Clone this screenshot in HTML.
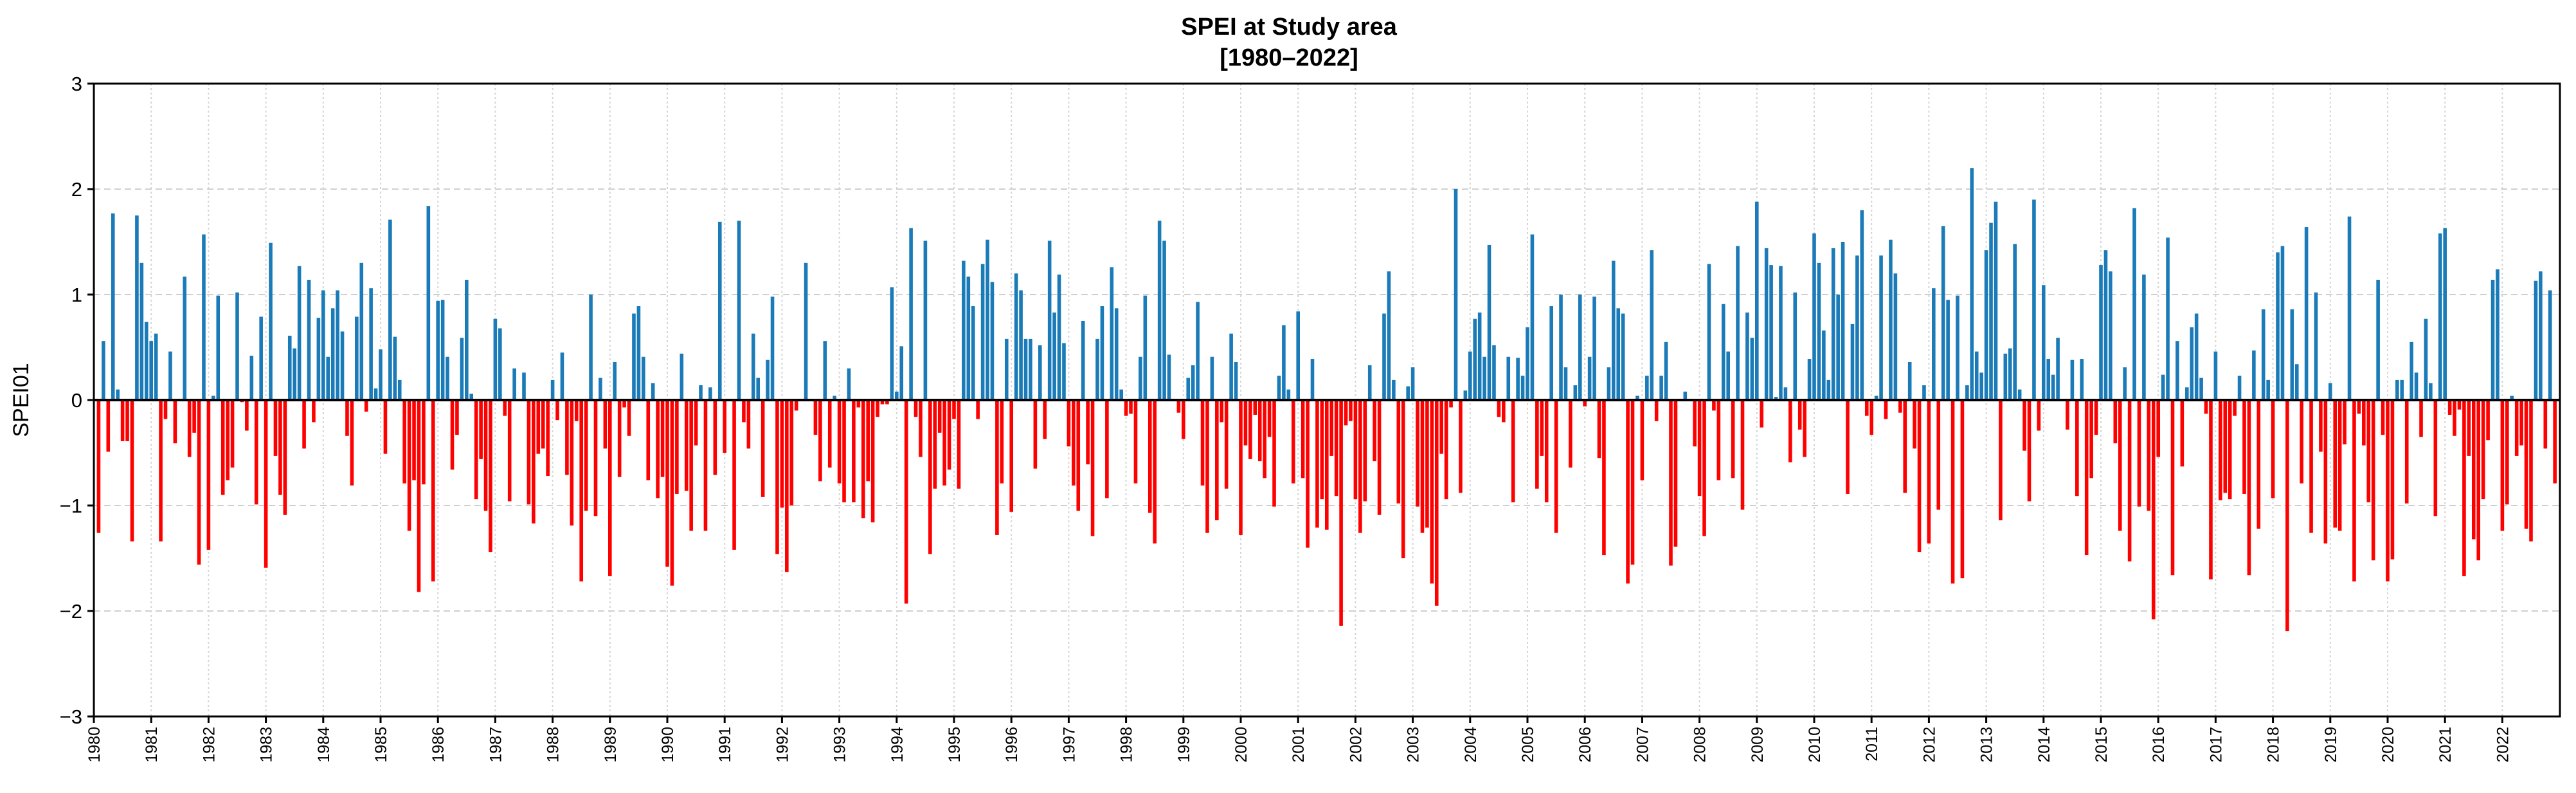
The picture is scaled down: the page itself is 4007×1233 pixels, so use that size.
<!DOCTYPE html>
<html><head><meta charset="utf-8"><title>SPEI at Study area</title>
<style>
html,body{margin:0;padding:0;background:#fff;}
svg{display:block;font-family:"Liberation Sans","DejaVu Sans",sans-serif;}
</style></head>
<body>
<svg id="chart" width="4007" height="1233" viewBox="0 0 4007 1233" xmlns="http://www.w3.org/2000/svg">
  <rect x="0" y="0" width="4007" height="1233" fill="#fff"/>
  <text x="2005" y="54" text-anchor="middle" font-size="38" font-weight="bold">SPEI at Study area</text>
  <text x="2005" y="102" text-anchor="middle" font-size="38" font-weight="bold">[1980–2022]</text>
  <g id="grid"></g>
  <g id="bars"></g>
  <g id="axes"></g>
  <text x="0" y="0" transform="translate(44,622) rotate(-90)" text-anchor="middle" font-size="34">SPEI01</text>
</svg>
<script>
const startYear = 1980;
const yearLabels = [];
for (let y = 1980; y <= 2022; y++) yearLabels.push(String(y));
const yTicks = [-3, -2, -1, 0, 1, 2, 3];
const spei = [
0,-1.26,0.56,-0.49,1.77,0.1,-0.39,-0.39,-1.34,1.75,1.3,0.74,
0.56,0.63,-1.34,-0.18,0.46,-0.41,0,1.17,-0.54,-0.31,-1.56,1.57,
-1.42,0.04,0.99,-0.9,-0.76,-0.64,1.02,-0.02,-0.29,0.42,-0.99,0.79,
-1.59,1.49,-0.53,-0.9,-1.09,0.61,0.49,1.27,-0.46,1.14,-0.21,0.78,
1.04,0.41,0.87,1.04,0.65,-0.34,-0.81,0.79,1.3,-0.11,1.06,0.11,
0.48,-0.51,1.71,0.6,0.19,-0.79,-1.24,-0.76,-1.82,-0.8,1.84,-1.72,
0.94,0.95,0.41,-0.66,-0.33,0.59,1.14,0.06,-0.94,-0.56,-1.05,-1.44,
0.77,0.68,-0.15,-0.96,0.3,0,0.26,-0.99,-1.17,-0.51,-0.46,-0.72,
0.19,-0.19,0.45,-0.71,-1.19,-0.2,-1.72,-1.05,1.0,-1.1,0.21,-0.46,
-1.67,0.36,-0.73,-0.07,-0.34,0.82,0.89,0.41,-0.76,0.16,-0.93,-0.73,
-1.58,-1.76,-0.89,0.44,-0.86,-1.24,-0.43,0.14,-1.24,0.12,-0.71,1.69,
-0.5,0,-1.42,1.7,-0.21,-0.46,0.63,0.21,-0.92,0.38,0.98,-1.46,
-1.02,-1.63,-1.0,-0.1,0,1.3,0,-0.33,-0.77,0.56,-0.64,0.04,
-0.79,-0.97,0.3,-0.97,-0.07,-1.12,-0.77,-1.16,-0.16,-0.04,-0.04,1.07,
0.08,0.51,-1.93,1.63,-0.16,-0.54,1.51,-1.46,-0.84,-0.31,-0.81,-0.66,
-0.18,-0.84,1.32,1.17,0.89,-0.18,1.29,1.52,1.12,-1.28,-0.79,0.58,
-1.06,1.2,1.04,0.58,0.58,-0.65,0.52,-0.37,1.51,0.83,1.19,0.54,
-0.44,-0.81,-1.05,0.75,-0.61,-1.29,0.58,0.89,-0.93,1.26,0.87,0.1,
-0.15,-0.13,-0.79,0.41,0.99,-1.07,-1.36,1.7,1.51,0.43,0,-0.12,
-0.37,0.21,0.33,0.93,-0.81,-1.26,0.41,-1.14,-0.21,-0.84,0.63,0.36,
-1.28,-0.43,-0.56,-0.14,-0.58,-0.74,-0.35,-1.01,0.23,0.71,0.1,-0.79,
0.84,-0.74,-1.4,0.39,-1.21,-0.94,-1.23,-0.53,-0.91,-2.14,-0.24,-0.2,
-0.94,-1.26,-0.96,0.33,-0.58,-1.09,0.82,1.22,0.19,-0.98,-1.5,0.13,
0.31,-1.01,-1.26,-1.21,-1.74,-1.95,-0.51,-0.94,-0.07,2.0,-0.88,0.09,
0.46,0.77,0.83,0.41,1.47,0.52,-0.16,-0.21,0.41,-0.97,0.4,0.23,
0.69,1.57,-0.84,-0.53,-0.97,0.89,-1.26,1.0,0.31,-0.64,0.14,1.0,
-0.06,0.41,0.98,-0.55,-1.47,0.31,1.32,0.87,0.82,-1.74,-1.56,0.04,
-0.76,0.23,1.42,-0.2,0.23,0.55,-1.57,-1.39,0,0.08,0,-0.44,
-0.91,-1.29,1.29,-0.1,-0.76,0.91,0.46,-0.74,1.46,-1.04,0.83,0.59,
1.88,-0.26,1.44,1.28,0.03,1.27,0.12,-0.59,1.02,-0.28,-0.54,0.39,
1.58,1.3,0.66,0.19,1.44,1.0,1.5,-0.89,0.72,1.37,1.8,-0.15,
-0.33,0.04,1.37,-0.18,1.52,1.2,-0.12,-0.88,0.36,-0.46,-1.44,0.14,
-1.36,1.06,-1.04,1.65,0.95,-1.74,0.99,-1.69,0.14,2.2,0.46,0.26,
1.42,1.68,1.88,-1.14,0.44,0.49,1.48,0.1,-0.48,-0.96,1.9,-0.29,
1.09,0.39,0.24,0.59,0,-0.28,0.38,-0.91,0.39,-1.47,-0.74,-0.33,
1.28,1.42,1.22,-0.41,-1.24,0.31,-1.53,1.82,-1.01,1.19,-1.05,-2.08,
-0.54,0.24,1.54,-1.66,0.56,-0.63,0.12,0.69,0.82,0.21,-0.13,-1.7,
0.46,-0.95,-0.88,-0.94,-0.15,0.23,-0.89,-1.66,0.47,-1.22,0.86,0.19,
-0.93,1.4,1.46,-2.19,0.86,0.34,-0.79,1.64,-1.26,1.02,-0.49,-1.36,
0.16,-1.21,-1.24,-0.42,1.74,-1.72,-0.13,-0.43,-0.97,-1.52,1.14,-0.33,
-1.72,-1.51,0.19,0.19,-0.98,0.55,0.26,-0.35,0.77,0.16,-1.1,1.58,
1.63,-0.14,-0.34,-0.09,-1.67,-0.53,-1.32,-1.52,-0.94,-0.38,1.14,1.24,
-1.24,-0.99,0.04,-0.53,-0.43,-1.22,-1.34,1.13,1.22,-0.46,1.04,-0.79
];

const NS = "http://www.w3.org/2000/svg";
const plotL = 146, plotR = 3982, plotT = 130, plotB = 1114;
const yMin = -3, yMax = 3;
const monthW = 89.2 / 12;
function xScale(monthIndex) { return 146 + monthIndex * monthW; }
function yScale(v) { return plotB - (v - yMin) / (yMax - yMin) * (plotB - plotT); }
function mk(tag, attrs, parent) {
  const el = document.createElementNS(NS, tag);
  for (const k in attrs) el.setAttribute(k, attrs[k]);
  parent.appendChild(el);
  return el;
}
const grid = document.getElementById('grid');
const bars = document.getElementById('bars');
const axes = document.getElementById('axes');

// horizontal grid
yTicks.forEach(t => {
  const y = yScale(t);
  const ln = mk('line', {x1: plotL, x2: plotR, y1: y, y2: y, stroke: '#cfcfcf', 'stroke-width': 2, 'stroke-dasharray': '10,6'}, grid);
  
  
});
// vertical grid
yearLabels.forEach((lab, i) => {
  const x = xScale(i * 12);
  const ln = mk('line', {x1: x, x2: x, y1: plotT, y2: plotB, stroke: '#d4d4d4', 'stroke-width': 2, 'stroke-dasharray': '3,4'}, grid);
  
  
});

// bars
const barW = 5.6;
const y0 = yScale(0);
spei.forEach((v, i) => {
  if (v === 0) return;
  const cx = xScale(i);
  const yv = yScale(v);
  const r = mk('rect', {x: cx - barW / 2, y: Math.min(y0, yv), width: barW, height: Math.abs(yv - y0), fill: v > 0 ? '#1a7bb8' : '#ff0000'}, bars);
  
  
});

// zero line
const zl = mk('line', {x1: plotL, x2: plotR, y1: y0, y2: y0, stroke: '#000', 'stroke-width': 4}, axes);



// frame
const fr = mk('rect', {x: plotL, y: plotT, width: plotR - plotL, height: plotB - plotT, fill: 'none', stroke: '#000', 'stroke-width': 3}, axes);



// y ticks + labels
yTicks.forEach(t => {
  const y = yScale(t);
  const tk = mk('line', {x1: plotL - 10, x2: plotL, y1: y, y2: y, stroke: '#000', 'stroke-width': 3}, axes);
  
  
  const tx = mk('text', {x: plotL - 18, y: y + 11, 'text-anchor': 'end', 'font-size': 31}, axes);
  tx.textContent = (t < 0 ? '\u2212' : '') + Math.abs(t);
  
  
});

// x ticks + labels
yearLabels.forEach((lab, i) => {
  const x = xScale(i * 12);
  const tk = mk('line', {x1: x, x2: x, y1: plotB, y2: plotB + 10, stroke: '#000', 'stroke-width': 3}, axes);
  
  
  const tx = mk('text', {x: 0, y: 0, transform: 'translate(' + (x + 9) + ',' + (plotB + 16) + ') rotate(-90)', 'text-anchor': 'end', 'font-size': 25}, axes);
  tx.textContent = lab;
  
  
});
</script>
</body></html>
